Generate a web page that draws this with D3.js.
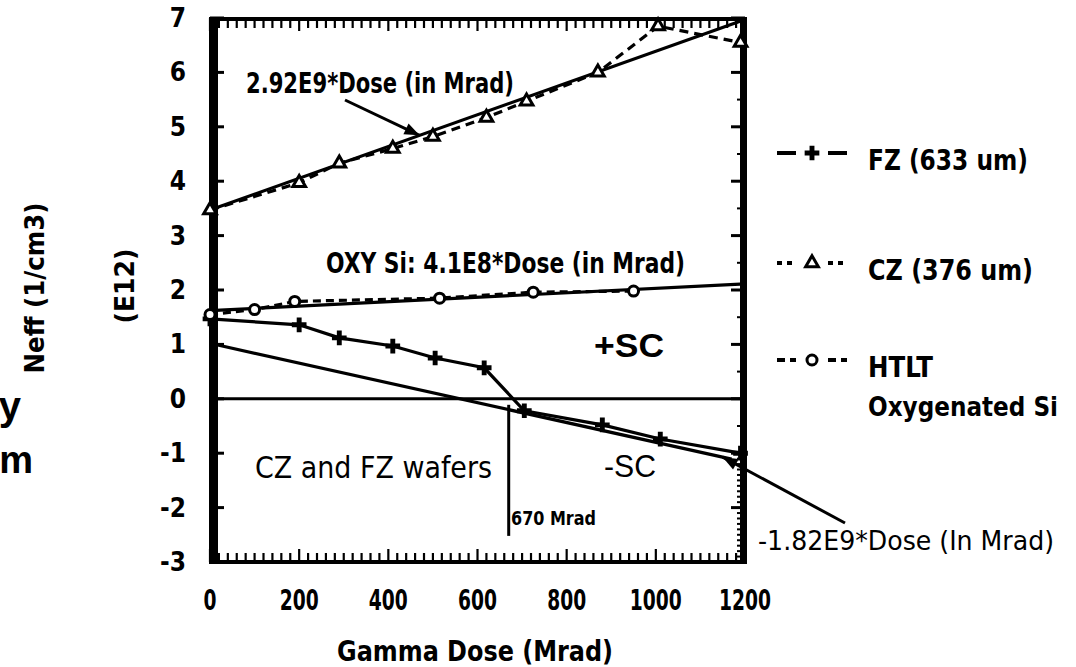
<!DOCTYPE html>
<html><head><meta charset="utf-8">
<script src="https://cdn.jsdelivr.net/npm/d3@7"></script>
<style>
body{margin:0;background:#fff;}
svg{display:block;}
text{font-family:"Liberation Sans Narrow","Arial Narrow","DejaVu Sans Condensed",sans-serif;font-weight:bold;fill:#000;}
</style></head><body>
<svg id="chart" width="1076" height="667"></svg>
<script>
// Gamma dose in Mrad, Neff in units of 1E12 /cm3
const doseTicks = [0, 200, 400, 600, 800, 1000, 1200];
const neffTicks = [7, 6, 5, 4, 3, 2, 1, 0, -1, -2, -3];

// FZ (633 um)
const fzDose = [0, 200, 290, 410, 505, 615, 705, 880, 1010, 1190];
const fzNeff = [1.47, 1.36, 1.12, 0.97, 0.75, 0.57, -0.22, -0.48, -0.74, -1.0];

// CZ (376 um)
const czDose = [0, 200, 290, 410, 500, 620, 710, 870, 1005, 1190];
const czNeff = [3.47, 3.97, 4.33, 4.6, 4.82, 5.17, 5.47, 6.0, 6.85, 6.55];

// HTLT oxygenated Si
const htltDose = [0, 100, 190, 515, 725, 950];
const htltNeff = [1.55, 1.64, 1.79, 1.85, 1.96, 1.98];

// Linear fits: slope in 1E9 /cm3 per Mrad, intercept in 1E12 /cm3
const fitSlopeE9 = [2.92, 0.41, -1.82];
const fitIntercept = [3.47, 1.62, 1.02];
const fitEndDose = [1200, 1200, 1170];

// Inversion dose of the CZ/FZ wafers
const inversionDose = 670;

const svg = d3.select("#chart");
const x = d3.scaleLinear().domain([0, 1200]).range([210, 745]);
const y = d3.scaleLinear().domain([-3, 7]).range([562, 18]);

const fitValue = (i, d) => fitIntercept[i] + fitSlopeE9[i] * d / 1000;

// ---- frame and ticks ----
const frame = svg.append("g");
const minorDose = d3.range(0, 1201, 20);
frame.selectAll(".tt").data(minorDose).join("line")
  .attr("x1", d => x(d)).attr("x2", d => x(d))
  .attr("y1", y(7)).attr("y2", d => y(7) + (d % 200 === 0 ? 13 : 10))
  .attr("stroke", "#000").attr("stroke-width", 2.2);
frame.selectAll(".bt").data(minorDose).join("line")
  .attr("x1", d => x(d)).attr("x2", d => x(d))
  .attr("y1", y(-3)).attr("y2", d => y(-3) - (d % 200 === 0 ? 13 : 9))
  .attr("stroke", "#000").attr("stroke-width", 2.2);

const minorNeff = d3.range(-30, 71, 1).map(v => v / 10)
  .filter(v => v < -1 || Math.abs(v * 2 - Math.round(v * 2)) < 1e-9);
[[x(0), 1], [x(1200), -1]].forEach(([x0, dir]) => {
  frame.append("g").selectAll("line").data(minorNeff).join("line")
    .attr("x1", x0).attr("x2", v => x0 + dir * (Number.isInteger(v) ? 14 : 8))
    .attr("y1", v => y(v)).attr("y2", v => y(v))
    .attr("stroke", "#000").attr("stroke-width", v => Number.isInteger(v) ? 3 : 2);
});

frame.append("rect").attr("x", x(0) - 1).attr("y", y(7) - 1).attr("width", 9).attr("height", y(-3) - y(7) + 2).attr("fill", "#000");
frame.append("rect").attr("x", x(1200) - 5).attr("y", y(7) - 1).attr("width", 7).attr("height", y(-3) - y(7) + 2).attr("fill", "#000");
frame.append("rect").attr("x", x(0) - 1).attr("y", y(7) - 1).attr("width", x(1200) - x(0) + 3).attr("height", 4).attr("fill", "#000");
frame.append("rect").attr("x", x(0) - 1).attr("y", y(-3) - 2).attr("width", x(1200) - x(0) + 3).attr("height", 4).attr("fill", "#000");

// zero line
svg.append("line").attr("x1", x(0)).attr("x2", x(1200)).attr("y1", y(0)).attr("y2", y(0))
  .attr("stroke", "#000").attr("stroke-width", 3);

// inversion marker
svg.append("line").attr("x1", x(inversionDose)).attr("x2", x(inversionDose))
  .attr("y1", y(0) + 6).attr("y2", y(-2.52))
  .attr("stroke", "#000").attr("stroke-width", 3);

// ---- series ----
const line = d3.line().x(d => x(d[0])).y(d => y(d[1]));
const zip = (a, b) => a.map((d, i) => [d, b[i]]);

const series = [
  { dose: fzDose, neff: fzNeff, dash: null, sym: "plus" },
  { dose: czDose, neff: czNeff, dash: "9,6", sym: "tri" },
  { dose: htltDose, neff: htltNeff, dash: "8,5", sym: "circ" }
];

// fit lines
fitSlopeE9.forEach((s, i) => {
  svg.append("path")
    .attr("d", line([[0, fitValue(i, 0)], [fitEndDose[i], fitValue(i, fitEndDose[i])]]))
    .attr("fill", "none").attr("stroke", "#000").attr("stroke-width", 3.2);
});

series.forEach(s => {
  svg.append("path").attr("d", line(zip(s.dose, s.neff)))
    .attr("fill", "none").attr("stroke", "#000").attr("stroke-width", 3.2)
    .attr("stroke-dasharray", s.dash);
});

const plusSym = d3.symbol(d3.symbolCross, 120);
const triSym = d3.symbol(d3.symbolTriangle, 70);
function drawMarker(g, kind, px, py) {
  if (kind === "plus") {
    g.append("path").attr("d", plusSym()).attr("transform", `translate(${px},${py})`).attr("fill", "#000");
  } else if (kind === "tri") {
    g.append("path").attr("d", triSym()).attr("transform", `translate(${px},${py})`)
      .attr("fill", "#fff").attr("stroke", "#000").attr("stroke-width", 3);
  } else {
    g.append("circle").attr("cx", px).attr("cy", py).attr("r", 5)
      .attr("fill", "#fff").attr("stroke", "#000").attr("stroke-width", 3);
  }
}
const markers = svg.append("g");
series.forEach(s => s.dose.forEach((d, i) => drawMarker(markers, s.sym, x(d), y(s.neff[i]))));

// ---- arrows ----
function arrow(x1, y1, x2, y2) {
  svg.append("line").attr("x1", x1).attr("y1", y1).attr("x2", x2).attr("y2", y2)
    .attr("stroke", "#000").attr("stroke-width", 3);
  const a = Math.atan2(y2 - y1, x2 - x1), L = 15, W = 6;
  const bx = x2 - L * Math.cos(a), by = y2 - L * Math.sin(a);
  svg.append("polygon").attr("points", [
    [x2, y2],
    [bx + W * Math.sin(a), by - W * Math.cos(a)],
    [bx - W * Math.sin(a), by + W * Math.cos(a)]
  ].map(p => p.join(",")).join(" ")).attr("fill", "#000");
}
arrow(345, 100, x(470), y(fitValue(0, 470)));
arrow(845, 523, x(1150), y(fitValue(2, 1150)));

// ---- text ----
function label(t, px, py, o = {}) {
  const el = svg.append("text").attr("x", px).attr("y", py).text(t)
    .attr("font-size", o.size || 29)
    .attr("text-anchor", o.anchor || "start");
  if (o.weight) el.style("font-weight", o.weight);
  if (o.family) el.style("font-family", o.family);
  if (o.w) el.attr("textLength", o.w).attr("lengthAdjust", "spacingAndGlyphs");
  if (o.rotate) el.attr("transform", `rotate(-90,${px},${py})`);
  return el;
}
const wide = '"Liberation Sans", Arial, sans-serif';

label("2.92E9*Dose (in Mrad)", 246, 93, { w: 268 });
label("OXY Si:  4.1E8*Dose (in Mrad)", 326, 273, { w: 359 });
label("+SC", 594, 357, { size: 34, family: wide, w: 70 });
label("-SC", 604, 477, { size: 32, family: wide, weight: "normal", w: 52 });
label("CZ and FZ wafers", 255, 478, { size: 31, weight: "normal", w: 237 });
label(inversionDose + " Mrad", 511, 525, { size: 19, w: 85 });
label("-1.82E9*Dose (In Mrad)", 758, 550, { size: 27, weight: "normal", w: 296 });

// legend
const legendNames = ["FZ (633 um)", "CZ (376 um)", "HTLT"];
const legendY = [153, 263, 360];
const legendW = [160, 165, 65];
const legendDash = [null, "5,5", "8,5"];
const legendSym = ["plus", "tri", "circ"];
legendNames.forEach((n, i) => {
  const ly = legendY[i];
  [[777, 796], [828, 847]].forEach(([a, b]) =>
    svg.append("line").attr("x1", a).attr("x2", b).attr("y1", ly).attr("y2", ly)
      .attr("stroke", "#000").attr("stroke-width", 4).attr("stroke-dasharray", legendDash[i]));
  drawMarker(svg, legendSym[i], 812, ly);
  label(n, 868, ly + 17, { w: legendW[i] });
});
label("Oxygenated Si", 868, 416, { size: 27, w: 190 });

// axes tick labels
doseTicks.forEach(d => label(d, x(d), 610, { size: 28, anchor: "middle", w: String(d).length * 13 }));
neffTicks.forEach(v => label(v, 186, y(v) + 9, { size: 26, anchor: "end" }));

label("Gamma Dose (Mrad)", 475, 661, { size: 28, anchor: "middle", w: 276 });
label("Neff (1/cm3)", 44, 288, { size: 26, anchor: "middle", rotate: true, w: 171 });
label("(E12)", 134, 286, { size: 26, anchor: "middle", rotate: true, w: 75 });

// text continuing from the left of the figure
label("y", 21, 420, { size: 40, family: wide, anchor: "end" });
label("m", 33, 473, { size: 38, family: wide, anchor: "end" });
</script>
</body></html>
